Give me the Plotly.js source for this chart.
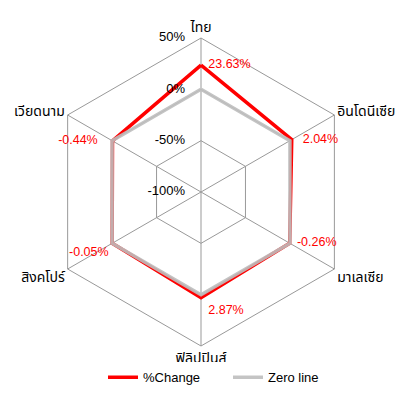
<!DOCTYPE html>
<html>
<head>
<meta charset="utf-8">
<script src="https://cdn.plot.ly/plotly-3.0.1.min.js"></script>
<style>html,body{margin:0;padding:0;background:#fff;}#chart{width:412px;height:410px;}</style>
</head>
<body>
<div id="chart"></div>
<script>
var categories = ["ไทย", "อินโดนีเซีย", "มาเลเซีย", "ฟิลิปปินส์", "สิงคโปร์", "เวียดนาม"];
var pctChange = [23.63, 2.04, -0.26, 2.87, -0.05, -0.44];
var zeroLine = [0, 0, 0, 0, 0, 0];
var radialTicks = [-100, -50, 0, 50];
var radialTickText = ["-100%", "-50%", "0%", "50%"];
var labelPositions = ["middle right", "middle right", "middle right", "bottom right", "bottom left", "middle left"];

function closeLoop(a) { return a.concat([a[0]]); }

var fontFam = "Liberation Sans, Arial, sans-serif";
var thaiFam = "Tahoma, 'Noto Sans Thai', Loma, Garuda, 'Liberation Sans', sans-serif";
var domain = {x: [0.1141, 0.8617], y: [0.1561, 0.9073]};

var traces = [
  {
    type: "scatterpolar",
    subplot: "polar",
    name: "%Change",
    r: closeLoop(pctChange),
    theta: closeLoop(categories),
    mode: "lines",
    line: {color: "#ff0000", width: 3.5},
    hoverinfo: "skip"
  },
  {
    type: "scatterpolar",
    subplot: "polar",
    name: "Zero line",
    r: closeLoop(zeroLine),
    theta: closeLoop(categories),
    mode: "lines",
    line: {color: "rgba(190,190,190,0.9)", width: 3.5},
    hoverinfo: "skip"
  },
  {
    type: "scatterpolar",
    subplot: "polar2",
    showlegend: false,
    r: pctChange,
    theta: categories,
    mode: "markers+text",
    marker: {size: [10, 16, 10, 10, 4, 22], opacity: 0},
    text: pctChange.map(function(v){ return v.toFixed(2) + "%"; }),
    textposition: labelPositions,
    textfont: {color: "#ff0000", size: 12.5, family: fontFam},
    hoverinfo: "skip",
    cliponaxis: false
  },
  {
    type: "scatterpolar",
    subplot: "polar2",
    showlegend: false,
    r: radialTicks,
    theta: radialTicks.map(function(){ return categories[0]; }),
    mode: "markers+text",
    marker: {size: 24, opacity: 0},
    text: radialTickText,
    textposition: "middle left",
    textfont: {color: "#000000", size: 13, family: fontFam},
    hoverinfo: "skip",
    cliponaxis: false
  }
];

var layout = {
  width: 412,
  height: 410,
  margin: {l: 0, r: 0, t: 0, b: 0},
  paper_bgcolor: "#ffffff",
  plot_bgcolor: "#ffffff",
  font: {family: fontFam, size: 12, color: "#000"},
  showlegend: true,
  legend: {
    orientation: "h",
    x: 0.25, xanchor: "left",
    y: 0.08, yanchor: "middle",
    entrywidth: 80,
    font: {size: 13, color: "#000", family: fontFam},
    tracegroupgap: 0
  },
  polar: {
    domain: domain,
    gridshape: "linear",
    bgcolor: "#ffffff",
    radialaxis: {
      range: [-100, 50],
      tickmode: "array",
      tickvals: radialTicks,
      showticklabels: false,
      angle: 90,
      showline: false,
      ticks: "",
      gridcolor: "#999999",
      gridwidth: 1
    },
    angularaxis: {
      rotation: 90,
      direction: "clockwise",
      categoryorder: "array",
      categoryarray: categories,
      linecolor: "#999999",
      linewidth: 1,
      gridcolor: "#999999",
      ticks: "",
      tickfont: {size: 14, color: "#000", family: thaiFam}
    }
  },
  polar2: {
    domain: domain,
    gridshape: "circular",
    bgcolor: "rgba(0,0,0,0)",
    radialaxis: {range: [-100, 50], visible: false, showgrid: false},
    angularaxis: {
      rotation: 90,
      direction: "clockwise",
      categoryorder: "array",
      categoryarray: categories,
      visible: false,
      showgrid: false
    }
  }
};

Plotly.newPlot("chart", traces, layout, {displayModeBar: false, staticPlot: true});
</script>
</body>
</html>
